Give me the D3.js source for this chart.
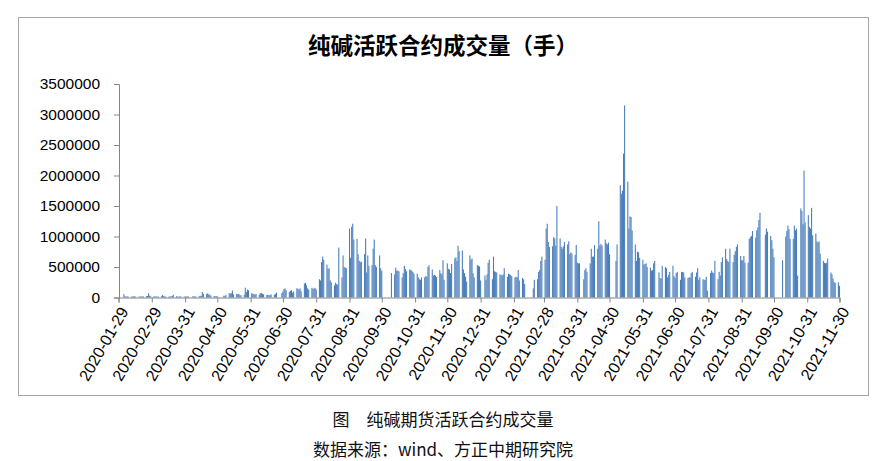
<!DOCTYPE html>
<html><head><meta charset="utf-8">
<script src="https://cdn.jsdelivr.net/npm/d3@7"></script>
<style>body{margin:0;background:#fff} svg{display:block}</style>
</head><body><svg id="c" width="884" height="461"></svg>
<script>
// ---- data (daily volume of the active soda-ash contract, hands) ----
const vol_2020_02 = [55000, 20000, 15000, 18000, 16000, 14000, 15000, 20000, 17000, 15000, 16000, 14000, 18000, 15000, 20000, 22000, 25000, 70000, 30000, 20000];
const vol_2020_03 = [20000, 18000, 16000, 15000, 17000, 20000, 40000, 22000, 18000, 15000, 16000, 18000, 20000, 25000, 45000, 20000, 15000, 14000, 16000, 18000, 15000, 17000];
const vol_2020_04 = [15000, 18000, 16000, 17000, 20000, 15000, 18000, 22000, 30000, 25000, 90000, 60000, 55000, 70000, 50000, 45000, 30000, 25000, 20000, 22000, 18000];
const vol_2020_05 = [30000, 25000, 45000, 70000, 65000, 70000, 115000, 50000, 60000, 55000, 60000, 40000, 35000, 45000, 160000, 90000, 130000, 120000];
const vol_2020_06 = [70000, 60000, 55000, 50000, 60000, 45000, 70000, 75000, 60000, 50000, 40000, 45000, 35000, 40000, 50000, 45000, 60000, 80000, 70000, 100000];
const vol_2020_07 = [140000, 150000, 120000, 90000, 110000, 120000, 80000, 100000, 150000, 145000, 130000, 150000, 100000, 230000, 240000, 200000, 150000, 130000, 160000, 140000, 150000, 160000, 130000];
const vol_2020_08 = [300000, 280000, 580000, 670000, 620000, 540000, 470000, 480000, 280000, 250000, 200000, 240000, 220000, 210000, 820000, 330000, 690000, 500000, 490000, 480000, 1130000];
const vol_2020_09 = [650000, 1160000, 1210000, 950000, 960000, 710000, 600000, 580000, 590000, 710000, 970000, 410000, 690000, 520000, 530000, 800000, 950000, 530000, 500000, 690000, 480000, 440000];
const vol_2020_10 = [400000, 380000, 490000, 440000, 440000, 430000, 330000, 400000, 520000, 470000, 430000, 460000, 450000, 440000, 420000, 390000];
const vol_2020_11 = [390000, 330000, 300000, 290000, 330000, 330000, 350000, 340000, 500000, 530000, 460000, 360000, 370000, 360000, 335000, 450000, 400000, 380000, 610000, 290000, 560000];
const vol_2020_12 = [470000, 460000, 400000, 550000, 640000, 660000, 600000, 850000, 760000, 770000, 460000, 400000, 340000, 260000, 690000, 620000, 640000, 400000, 330000, 530000, 520000, 510000, 280000];
const vol_2021_01 = [360000, 290000, 380000, 570000, 620000, 300000, 670000, 430000, 420000, 410000, 380000, 370000, 360000, 380000, 480000, 340000, 390000, 380000, 370000, 350000];
const vol_2021_02 = [330000, 340000, 330000, 450000, 280000, 320000, 300000, 220000, 150000, 290000, 300000, 420000, 450000, 600000, 670000];
const vol_2021_03 = [620000, 1130000, 1210000, 910000, 830000, 840000, 990000, 970000, 850000, 1500000, 970000, 830000, 800000, 840000, 910000, 870000, 920000, 710000, 740000, 720000, 700000, 860000, 570000];
const vol_2021_04 = [560000, 560000, 300000, 450000, 480000, 420000, 560000, 800000, 670000, 670000, 860000, 800000, 1250000, 850000, 880000, 850000, 950000, 890000, 870000, 900000, 710000];
const vol_2021_05 = [600000, 870000, 1840000, 1700000, 1750000, 2360000, 3150000, 1900000, 1130000, 1330000, 1320000, 1100000, 870000, 600000, 750000, 740000, 650000, 620000];
const vol_2021_06 = [540000, 550000, 560000, 500000, 490000, 440000, 450000, 560000, 600000, 410000, 320000, 310000, 520000, 500000, 480000, 330000, 370000, 420000, 520000, 350000, 320000];
const vol_2021_07 = [400000, 420000, 290000, 420000, 420000, 410000, 330000, 320000, 330000, 330000, 400000, 420000, 340000, 410000, 480000, 290000, 330000, 300000, 290000, 290000, 340000, 110000];
const vol_2021_08 = [400000, 440000, 410000, 400000, 600000, 300000, 420000, 360000, 580000, 660000, 800000, 630000, 600000, 580000, 800000, 580000, 700000, 760000, 830000, 870000, 680000, 610000];
const vol_2021_09 = [610000, 680000, 570000, 570000, 960000, 990000, 1010000, 1090000, 980000, 1100000, 1150000, 1270000, 1390000, 1030000, 1130000, 1080000, 1010000, 940000, 800000, 660000];
const vol_2021_10 = [610000, 1000000, 1090000, 1180000, 1120000, 960000, 960000, 1180000, 1100000, 1130000, 360000, 1460000, 1420000, 1200000, 2080000, 1230000];
const vol_2021_11 = [1350000, 1160000, 1130000, 1470000, 1020000, 1050000, 920000, 900000, 920000, 720000, 600000, 570000, 560000, 570000, 640000, 410000, 380000, 310000, 250000, 240000, 250000, 190000];

// exchange holidays (weekdays without trading)
const holidays = ["2020-04-06","2020-05-01","2020-05-04","2020-05-05","2020-06-25","2020-06-26",
  "2020-10-01","2020-10-02","2020-10-05","2020-10-06","2020-10-07","2020-10-08",
  "2021-01-01","2021-02-11","2021-02-12","2021-02-15","2021-02-16","2021-02-17",
  "2021-04-05","2021-05-03","2021-05-04","2021-05-05","2021-06-14","2021-09-20","2021-09-21",
  "2021-10-01","2021-10-04","2021-10-05","2021-10-06","2021-10-07"];

const xTickLabels = ["2020-01-29","2020-02-29","2020-03-31","2020-04-30","2020-05-31","2020-06-30","2020-07-31",
  "2020-08-31","2020-09-30","2020-10-31","2020-11-30","2020-12-31","2021-01-31","2021-02-28","2021-03-31",
  "2021-04-30","2021-05-31","2021-06-30","2021-07-31","2021-08-31","2021-09-30","2021-10-31","2021-11-30"];
const yTicks = [0, 500000, 1000000, 1500000, 2000000, 2500000, 3000000, 3500000];

const titleText = "纯碱活跃合约成交量（手）";
const caption1 = "图　纯碱期货活跃合约成交量";
const caption2 = "数据来源：wind、方正中期研究院";

// ---- build table ----
const months = [["2020-02",vol_2020_02],["2020-03",vol_2020_03],["2020-04",vol_2020_04],["2020-05",vol_2020_05],
  ["2020-06",vol_2020_06],["2020-07",vol_2020_07],["2020-08",vol_2020_08],["2020-09",vol_2020_09],
  ["2020-10",vol_2020_10],["2020-11",vol_2020_11],["2020-12",vol_2020_12],["2021-01",vol_2021_01],
  ["2021-02",vol_2021_02],["2021-03",vol_2021_03],["2021-04",vol_2021_04],["2021-05",vol_2021_05],
  ["2021-06",vol_2021_06],["2021-07",vol_2021_07],["2021-08",vol_2021_08],["2021-09",vol_2021_09],
  ["2021-10",vol_2021_10],["2021-11",vol_2021_11]];
const parse = d3.utcParse("%Y-%m-%d");
const fmt = d3.utcFormat("%Y-%m-%d");
const hol = new Set(holidays);
const data = [];
months.forEach(([m, vals]) => {
  const start = parse(m + "-01");
  const end = d3.utcMonth.offset(start, 1);
  let i = 0;
  for (let d = start; d < end; d = d3.utcDay.offset(d, 1)) {
    const wd = d.getUTCDay();
    if (wd === 0 || wd === 6 || hol.has(fmt(d))) continue;
    if (i < vals.length) data.push({date: d, value: vals[i]});
    i++;
  }
  if (i !== vals.length) console.warn("count mismatch", m, i, vals.length);
});

// ---- draw ----
const svg = d3.select("#c");
svg.append("rect").attr("x",18.5).attr("y",17.5).attr("width",850).attr("height",378)
  .attr("fill","#fff").attr("stroke","#a6a6a6").attr("stroke-width",1);

svg.append("text").attr("x",443).attr("y",54).attr("text-anchor","middle")
  .attr("font-family","'Noto Sans CJK SC', sans-serif").attr("font-weight",700)
  .attr("font-size",22.5).attr("fill","#000").text(titleText);

const x = d3.scaleUtc().domain([parse("2020-01-29"), parse("2021-11-30")]).range([118.5, 839.5]);
const y = d3.scaleLinear().domain([0, 3500000]).range([297.5, 84]);
const dayW = x(parse("2020-01-30")) - x(parse("2020-01-29"));
const bw = dayW;

svg.append("g").selectAll("rect").data(data).join("rect")
  .attr("x", d => x(d.date) - bw/2)
  .attr("y", d => y(d.value))
  .attr("width", bw)
  .attr("height", d => y(0) - y(d.value))
  .attr("fill", "#4a7ebb");

const axisColor = "#868686";
const gy = svg.append("g").attr("transform","translate(119,0)")
  .call(d3.axisLeft(y).tickValues(yTicks).tickSize(5).tickPadding(14).tickFormat(d3.format("d")));
const gx = svg.append("g").attr("transform","translate(0,297.5)")
  .call(d3.axisBottom(x).tickValues(xTickLabels.map(parse)).tickSize(5).tickFormat(fmt));
[gy, gx].forEach(g => {
  g.select(".domain").attr("stroke", axisColor);
  g.selectAll(".tick line").attr("stroke", axisColor);
  g.selectAll("text").attr("fill","#000").attr("font-family","'Liberation Sans', Arial, sans-serif").attr("font-size",15.5);
});
gx.selectAll("text").attr("font-size",16)
  .attr("text-anchor","end").attr("x",0).attr("y",0).attr("dy","0.35em")
  .attr("transform","translate(5,11) rotate(-60)");

svg.append("text").attr("x",443).attr("y",426).attr("text-anchor","middle")
  .attr("font-family","'Noto Sans CJK SC', sans-serif").attr("font-size",17).attr("fill","#111")
  .text(caption1);
svg.append("text").attr("x",443).attr("y",456).attr("text-anchor","middle")
  .attr("font-family","'Noto Sans CJK SC', sans-serif").attr("font-size",17).attr("fill","#111")
  .text(caption2);
</script></body></html>
